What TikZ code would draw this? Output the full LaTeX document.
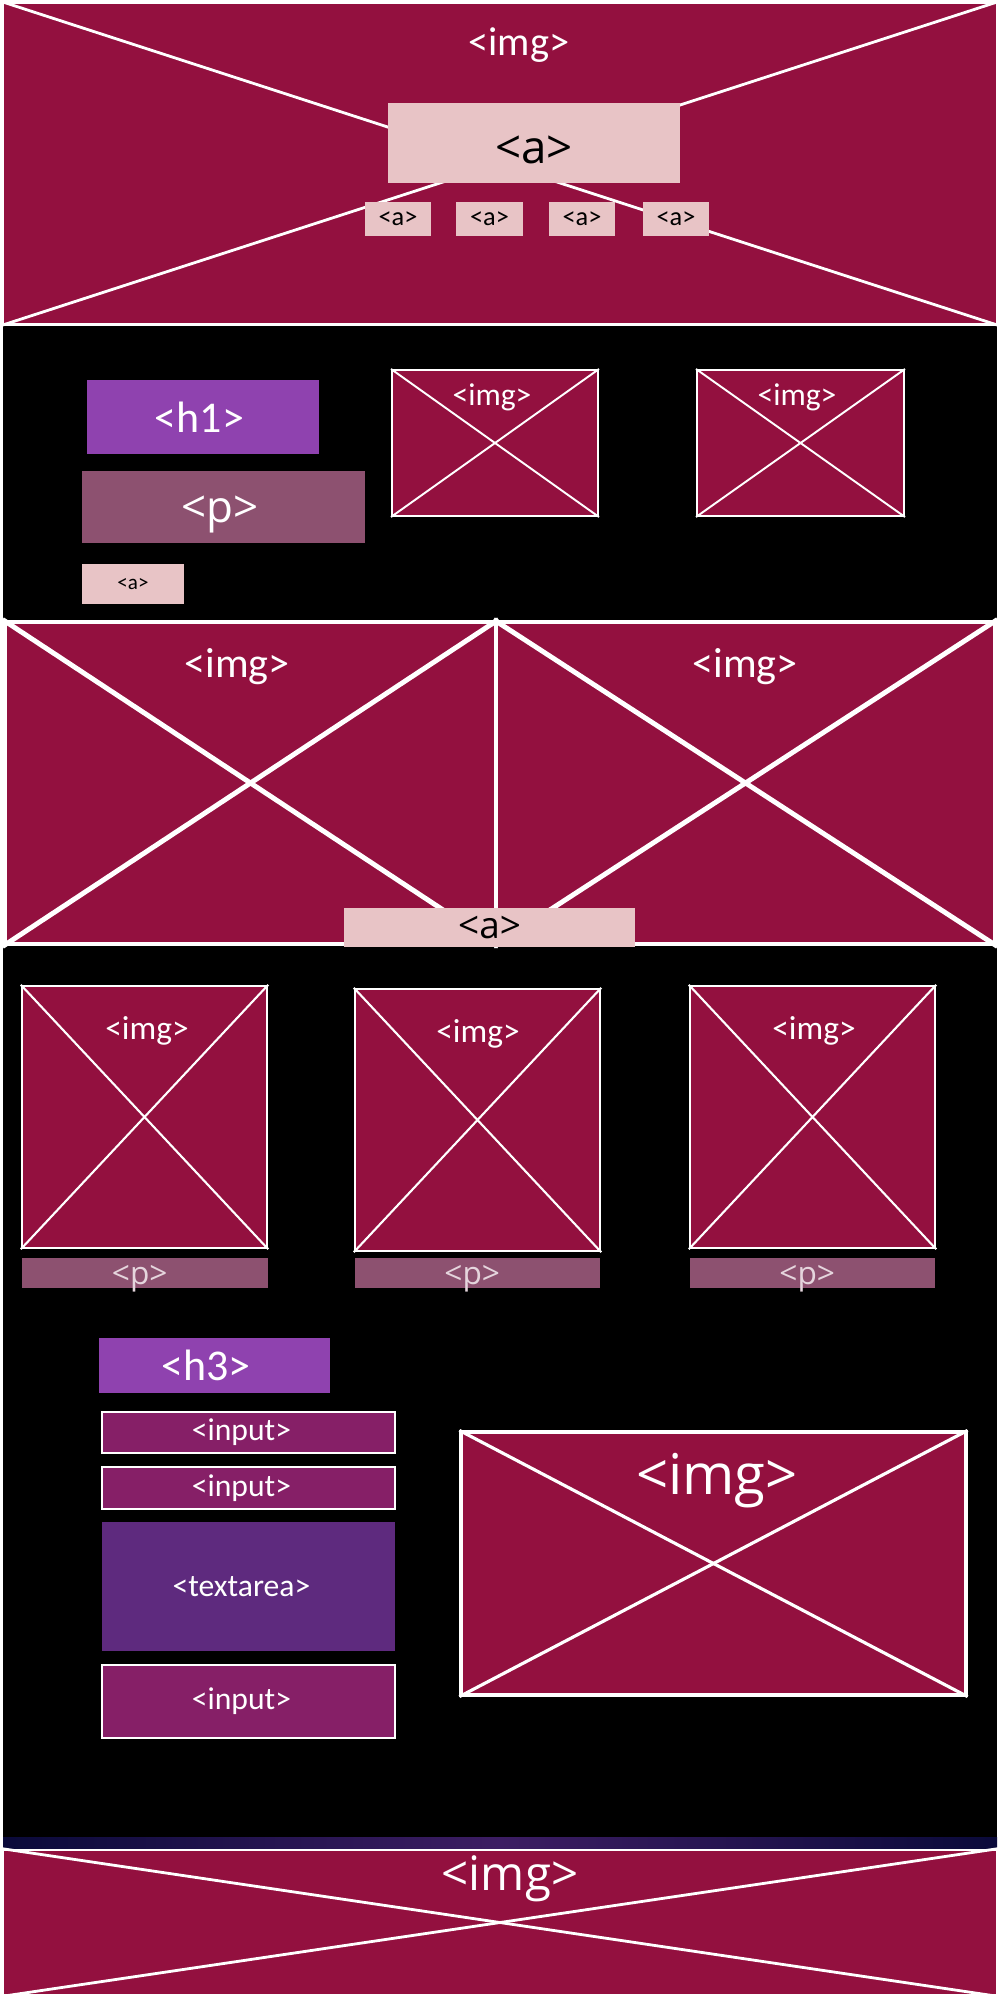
\documentclass[tikz,border=0pt]{standalone}
\usepackage{fontspec}
\setmainfont{Carlito}
\newfontfamily\widefont{Open Sans}
\usetikzlibrary{fit}
\definecolor{xCrimson}{RGB}{147,16,63}
\definecolor{xPink}{RGB}{232,196,198}
\definecolor{xViolet}{RGB}{143,66,175}
\definecolor{xMauve}{RGB}{141,81,112}
\definecolor{xPlum}{RGB}{134,31,103}
\definecolor{xGrape}{RGB}{94,42,126}
\definecolor{xNavy}{RGB}{10,10,58}
\definecolor{xPale}{RGB}{229,213,221}
\tikzset{
  imgbox/.style={draw=white, fill=xCrimson, line width=1.6pt, inner sep=0pt},
  xline/.style={white, line width=1.6pt},
  linkbox/.style={fill=xPink, inner sep=0pt},
  headbox/.style={fill=xViolet, inner sep=0pt},
  parabox/.style={fill=xMauve, inner sep=0pt},
  fieldbox/.style={draw=white, fill=xPlum, line width=1.6pt, inner sep=0pt},
  areabox/.style={fill=xGrape, inner sep=0pt},
  tag/.style={text=white, inner sep=0pt},
  darktag/.style={text=black, inner sep=0pt},
}
\newcommand{\fs}[1]{\fontsize{#1}{#1}\selectfont}

\begin{document}
\begin{tikzpicture}[x=0.02cm, y=-0.02cm]
  \useasboundingbox (0,0) rectangle (1000,2000);
  \fill[white] (0,0) rectangle (1000,2000);
  \fill[black] (3,326) rectangle (997,1848);

  % header
  \node[imgbox, fit={(3,3) (997,324)}] (hero) {};
  \draw[xline] (hero.north west) -- (hero.south east);
  \draw[xline] (hero.south west) -- (hero.north east);
  \node[tag, font=\fs{23}] (herotag) at (519,45) {<img>};
  \node[linkbox, fit={(388,103) (680,183)}] (heroa) {};
  \node[linkbox, fit={(365,202) (431,236)}] (nava) {};
  \node[linkbox, fit={(456,202) (523,236)}] (navb) {};
  \node[linkbox, fit={(549,202) (615,236)}] (navc) {};
  \node[linkbox, fit={(643,202) (709,236)}] (navd) {};
  \node[darktag, font=\widefont\fs{26}] (heroatag) at ([yshift=-4pt]heroa.center) {<a>};
  \node[darktag, font=\fs{15}] (navatag) at (nava.center) {<a>};
  \node[darktag, font=\fs{15}] (navbtag) at (navb.center) {<a>};
  \node[darktag, font=\fs{15}] (navctag) at (navc.center) {<a>};
  \node[darktag, font=\fs{15}] (navdtag) at (navd.center) {<a>};

  % intro
  \node[headbox, fit={(87,380) (319,454)}] (title) {};
  \node[parabox, fit={(82,471) (365,543)}] (intro) {};
  \node[linkbox, fit={(82,564) (184,604)}] (more) {};
  \node[tag, font=\fs{25}] (titletag) at ([xshift=-2pt]title.center) {<h1>};
  \node[tag, font=\widefont\fs{25}] (introtag) at ([xshift=-2pt, yshift=-4pt]intro.center) {<p>};
  \node[darktag, font=\fs{12}] (moretag) at (more.center) {<a>};
  \node[imgbox, line width=1.1pt, fit={(392,370) (598,516)}] (picA) {};
  \node[imgbox, line width=1.1pt, fit={(697,370) (904,516)}] (picB) {};
  \draw[xline, line width=1.1pt] (picA.north west) -- (picA.south east);
  \draw[xline, line width=1.1pt] (picA.south west) -- (picA.north east);
  \draw[xline, line width=1.1pt] (picB.north west) -- (picB.south east);
  \draw[xline, line width=1.1pt] (picB.south west) -- (picB.north east);
  \node[tag, font=\fs{18}] (picAtag) at (492,397) {<img>};
  \node[tag, font=\fs{18}] (picBtag) at (797,397) {<img>};

  % banner pair
  \node[imgbox, line width=2.8pt, fit={(5,622) (496,944)}] (bandL) {};
  \node[imgbox, line width=2.8pt, fit={(496,622) (995,944)}] (bandR) {};
  \draw[xline, line width=2.8pt] (bandL.north west) -- (bandL.south east);
  \draw[xline, line width=2.8pt] (bandL.south west) -- (bandL.north east);
  \draw[xline, line width=2.8pt] (bandR.north west) -- (bandR.south east);
  \draw[xline, line width=2.8pt] (bandR.south west) -- (bandR.north east);
  \node[tag, font=\fs{24}] (bandLtag) at (237,667) {<img>};
  \node[tag, font=\fs{24}] (bandRtag) at (745,667) {<img>};
  \node[linkbox, fit={(344,908) (635,947)}] (bandlink) {};
  \node[darktag, font=\widefont\fs{21}] (bandlinktag) at (bandlink.center) {<a>};

  % gallery
  \node[imgbox, line width=1.4pt, fit={(22,986) (267,1248)}] (galA) {};
  \node[imgbox, line width=1.4pt, fit={(355,989) (600,1251)}] (galB) {};
  \node[imgbox, line width=1.4pt, fit={(690,986) (935,1248)}] (galC) {};
  \draw[xline, line width=1.2pt] (galA.north west) -- (galA.south east);
  \draw[xline, line width=1.2pt] (galA.south west) -- (galA.north east);
  \draw[xline, line width=1.2pt] (galB.north west) -- (galB.south east);
  \draw[xline, line width=1.2pt] (galB.south west) -- (galB.north east);
  \draw[xline, line width=1.2pt] (galC.north west) -- (galC.south east);
  \draw[xline, line width=1.2pt] (galC.south west) -- (galC.north east);
  \node[tag, font=\fs{19}] (galAtag) at (147,1031) {<img>};
  \node[tag, font=\fs{19}] (galBtag) at (478,1034) {<img>};
  \node[tag, font=\fs{19}] (galCtag) at (814,1031) {<img>};
  \node[parabox, fit={(22,1258) (268,1288)}] (capA) {};
  \node[parabox, fit={(355,1258) (600,1288)}] (capB) {};
  \node[parabox, fit={(690,1258) (935,1288)}] (capC) {};
  \node[tag, text=xPale, font=\widefont\fs{18}] (capAtag) at ([xshift=-3pt, yshift=-3pt]capA.center) {<p>};
  \node[tag, text=xPale, font=\widefont\fs{18}] (capBtag) at ([xshift=-3pt, yshift=-3pt]capB.center) {<p>};
  \node[tag, text=xPale, font=\widefont\fs{18}] (capCtag) at ([xshift=-3pt, yshift=-3pt]capC.center) {<p>};

  % contact form
  \node[headbox, fit={(99,1338) (330,1393)}] (formhead) {};
  \node[fieldbox, fit={(102,1412) (395,1453)}] (fname) {};
  \node[fieldbox, fit={(102,1467) (395,1509)}] (fmail) {};
  \node[areabox, fit={(102,1522) (395,1651)}] (fmsg) {};
  \node[fieldbox, fit={(102,1665) (395,1738)}] (fsend) {};
  \node[tag, font=\fs{25}] (formheadtag) at ([xshift=-5pt]formhead.center) {<h3>};
  \node[tag, font=\fs{18}] (fnametag) at ([xshift=-4pt]fname.center) {<input>};
  \node[tag, font=\fs{18}] (fmailtag) at ([xshift=-4pt]fmail.center) {<input>};
  \node[tag, font=\fs{18}] (fmsgtag) at ([xshift=-4pt]fmsg.center) {<textarea>};
  \node[tag, font=\fs{18}] (fsendtag) at ([xshift=-4pt]fsend.center) {<input>};
  \node[imgbox, line width=1.8pt, fit={(461,1432) (966,1695)}] (formpic) {};
  \draw[xline, line width=1.8pt] (formpic.north west) -- (formpic.south east);
  \draw[xline, line width=1.8pt] (formpic.south west) -- (formpic.north east);
  \node[tag, font=\widefont\fs{32}] (formpictag) at (717,1481) {<img>};

  % footer
  \shade[left color=xNavy, right color=xNavy, middle color=xGrape!60!xNavy] (3,1837) rectangle (997,1848);
  \node[imgbox, fit={(3,1850) (997,1995)}] (foot) {};
  \draw[xline] (foot.north west) -- (foot.south east);
  \draw[xline] (foot.south west) -- (foot.north east);
  \node[tag, font=\widefont\fs{27}] (foottag) at (510,1879) {<img>};
\end{tikzpicture}
\end{document}
